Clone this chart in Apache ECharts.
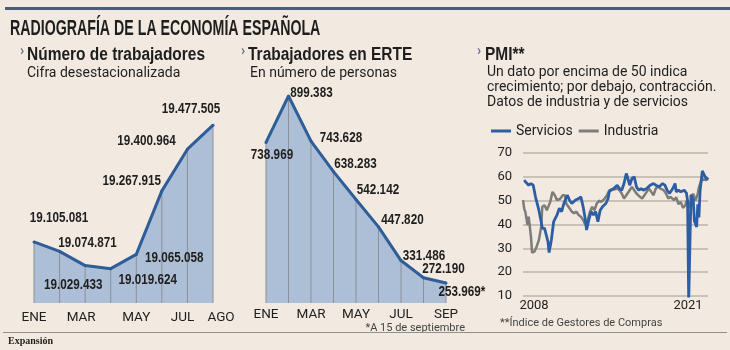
<!DOCTYPE html>
<html>
<head>
<meta charset="utf-8">
<script src="https://cdn.jsdelivr.net/npm/echarts@6/dist/echarts.min.js"></script>
<style>
	html, body{ margin:0; padding:0; background:#f2eae0; }
	#chart{ width:730px; height:350px; }
</style>
</head>
<body>
<div id="chart"></div>
<script>
// Número de trabajadores (cifra desestacionalizada)
var mesesTrab = ['ENE', 'FEB', 'MAR', 'ABR', 'MAY', 'JUN', 'JUL', 'AGO'];
var trabajadores = [19105081, 19074871, 19029433, 19019624, 19065058, 19267915, 19400964, 19477505];

// Trabajadores en ERTE (el último dato, a 15 de septiembre)
var mesesErte = ['ENE', 'FEB', 'MAR', 'ABR', 'MAY', 'JUN', 'JUL', 'AGO', 'SEP'];
var erte = [738969, 899383, 743628, 638283, 542142, 447820, 331486, 272190, 253969];

// PMI: [mes desde ene-2008, valor]
var pmiServicios = [
	[1, 58.6], [3, 57.5], [5, 56.5], [7, 57.2], [9, 56.5], [11, 51.6], [14, 46], [16, 41.2], [17, 38.4],
	[19, 38.4], [22, 32.8], [23, 28.2], [25, 33.5], [27, 41.2], [30, 44], [32, 46.8], [34, 45.4], [36, 48.8],
	[39, 52.3], [41, 50.2], [43, 48.8], [46, 50.2], [49, 50.9], [51, 51.6], [53, 47.4], [55, 41.9], [56, 37.7],
	[58, 41.9], [60, 45.4], [62, 44], [64, 45.4], [66, 41.2], [68, 46], [70, 47.4], [73, 48.8], [75, 50.9],
	[76, 53.7], [78, 54.7], [80, 55.1], [83, 56.5], [85, 55.1], [87, 54.4], [89, 57.2], [91, 61.4], [92, 60],
	[94, 56.5], [96, 59.3], [98, 60], [100, 55.8], [102, 54.4], [104, 55.1], [106, 54.4], [109, 55.1],
	[112, 56.5], [115, 57.2], [117, 56.5], [120, 55.8], [123, 57.2], [125, 56.5], [127, 54.4], [129, 53],
	[132, 55.1], [134, 57.2], [135, 53.7], [137, 54.4], [139, 53.7], [142, 54.4], [144, 53.2], [145, 50],
	[146, 8], [147, 30], [148, 52.5], [150, 50.5], [151, 41.5], [153, 39], [154, 48.5], [155, 43], [156, 54],
	[158, 62.5], [160, 60.4], [162, 59], [163, 59.7]
];
var pmiIndustria = [
	[0, 50.2], [1, 46.8], [2, 45.4], [4, 39.8], [5, 43.3], [7, 34.9], [8, 28.2], [10, 28.6], [12, 30.7],
	[14, 33.5], [16, 39], [17, 47.4], [19, 48.1], [21, 46], [22, 45.4], [24, 49.5], [26, 53.7], [28, 52.3],
	[30, 50.2], [33, 50.9], [35, 52.3], [37, 52.3], [38, 48.8], [41, 46.8], [43, 45.4], [45, 44.7], [47, 45.4],
	[49, 44], [51, 43.3], [53, 41.9], [55, 39.8], [57, 41.9], [59, 45.4], [61, 47.4], [63, 46], [65, 48.8],
	[67, 50], [69, 49.5], [72, 50.9], [74, 52.3], [76, 54.4], [78, 54.4], [80, 54.7], [83, 55.1], [85, 54.4],
	[87, 53], [89, 50.9], [91, 52.3], [94, 54.4], [96, 55.8], [98, 54.4], [100, 53], [103, 51.6], [105, 50.9],
	[107, 52.3], [109, 53.7], [111, 55.1], [113, 53.7], [115, 52.3], [117, 55.1], [119, 55.8], [121, 55.1],
	[124, 54.4], [126, 53], [128, 50.9], [130, 51.6], [133, 50.2], [135, 51.4], [137, 48.6], [139, 49.5],
	[141, 47], [143, 48], [144, 50], [146, 47], [148, 50], [150, 53], [152, 50], [154, 53], [155, 55.6],
	[157, 58.3], [159, 59], [161, 58.6], [163, 59]
];
var pmiAnios = ['2008', '2021'];
var pmiAniosMes = [0, 156];

// desplazamiento de cada etiqueta respecto a su punto (px)
var posTrab = [[25, -24], [28, -8], [-12, 19], [37, 11], [38, 3], [-30, -10], [-41, -8], [-22, -16]];
var posErte = [[6, 12], [23, -3], [30, -3], [22, -8], [22, -10], [24, -7], [23, -5], [20, -9], [16, 9]];

var BOLD_FONT = '"Liberation Sans", Arial, sans-serif';
var SANS = 'Roboto, "Liberation Sans", sans-serif';
var INK = '#1e1e1e';
var AZUL = '#2f5d98';
var RELLENO = '#adbfd6';
var GUIA = '#8b9099';

var fmt = function(v){
	return String(v).replace(/\B(?=(\d{3})+(?!\d))/g, '.');
};

var monthAxis = function(grid, data, shown, margin){
	return {
		type:'category', gridIndex:grid, data:data, boundaryGap:false,
		axisLine:{ show:false }, axisTick:{ show:false }, splitLine:{ show:false },
		axisLabel:{
			margin:margin, color:INK, fontFamily:SANS, fontSize:13.5,
			interval:function(i){ return shown.indexOf(i) >= 0; },
			formatter:function(v){
				if( v === 'AGO' ) return '{d|AGO}';
				if( v === 'JUL' && grid === 0 ) return '{i|JUL}';
				if( v === 'MAR' && grid === 0 ) return '{i2|MAR}';
				return v;
			},
			rich:{
				d:{ padding:[0, 0, 0, 16], fontFamily:SANS, fontSize:13.5, color:INK },
				i:{ padding:[0, 10, 0, 0], fontFamily:SANS, fontSize:13.5, color:INK },
				i2:{ padding:[0, 8, 0, 0], fontFamily:SANS, fontSize:13.5, color:INK }
			}
		}
	};
};

/**
 * área + líneas guía + línea + etiquetas (estrechadas, como en el original)
 */
var areaSeries = function(idx, values, pos, star){
	return [
		{
			type:'line', xAxisIndex:idx, yAxisIndex:idx, data:values, z:1, silent:true,
			symbol:'none', lineStyle:{ width:0 }, areaStyle:{ color:RELLENO, opacity:1 }
		},
		{
			type:'bar', xAxisIndex:idx, yAxisIndex:idx, data:values, z:2, silent:true,
			barWidth:1, itemStyle:{ color:GUIA }
		},
		{
			type:'line', xAxisIndex:idx, yAxisIndex:idx, data:values, z:3, silent:true,
			symbol:'circle', symbolSize:3, itemStyle:{ color:AZUL },
			lineStyle:{ color:AZUL, width:3 }
		},
		{
			type:'custom', xAxisIndex:idx, yAxisIndex:idx, z:4, silent:true, clip:false,
			data:values.map(function(v, i){ return [i, v]; }),
			renderItem:function(params, api){
				var i = params.dataIndex;
				var p = api.coord( [api.value( 0 ), api.value( 1 )] );
				var txt = fmt( values[i] ) + (star && i === values.length - 1 ? '*' : '');
				return {
					type:'text', x:p[0] + pos[i][0], y:p[1] + pos[i][1], scaleX:0.79,
					style:{ text:txt, fontFamily:BOLD_FONT, fontWeight:'bold', fontSize:14.8, fill:INK, align:'center', verticalAlign:'middle' }
				};
			}
		}
	];
};

var chart = echarts.init( document.getElementById( 'chart' ), null, { renderer:'canvas' } );

var headerText = function(x, y, text){
	return [
		{ type:'text', x:x, y:y - 4, style:{ text:'›', fontFamily:SANS, fontWeight:'bold', fontSize:14, fill:'#5f7088', verticalAlign:'middle' } },
		{ type:'text', x:x + 7, y:y, scaleX:0.86, style:{ text:text, fontFamily:BOLD_FONT, fontWeight:'bold', fontSize:18, fill:INK, verticalAlign:'middle' } }
	];
};

var plainText = function(x, y, text, size, color){
	return { type:'text', x:x, y:y, style:{ text:text, fontFamily:SANS, fontSize:size, fill:color || INK, verticalAlign:'middle' } };
};

var graphics = [
	{ type:'rect', shape:{ x:5, y:7, width:725, height:3 }, style:{ fill:'#4c5d77' } },
	{ type:'text', x:10, y:29, scaleX:0.645, style:{ text:'RADIOGRAFÍA DE LA ECONOMÍA ESPAÑOLA', fontFamily:BOLD_FONT, fontWeight:'bold', fontSize:22, fill:INK, verticalAlign:'middle' } },
	plainText( 27, 73, 'Cifra desestacionalizada', 14 ),
	plainText( 250, 73, 'En número de personas', 14 ),
	plainText( 487, 72, 'Un dato por encima de 50 indica', 14 ),
	plainText( 487, 87, 'crecimiento; por debajo, contracción.', 14 ),
	plainText( 487, 102, 'Datos de industria y de servicios', 14 ),
	{ type:'text', x:465, y:328, style:{ text:'*A 15 de septiembre', fontFamily:SANS, fontSize:11, fill:'#444', align:'right', verticalAlign:'middle' } },
	plainText( 500, 323, '**Índice de Gestores de Compras', 11, '#444' ),
	{ type:'rect', shape:{ x:3, y:332, width:724, height:1 }, style:{ fill:'#8f8f8f' } },
	{ type:'text', x:8, y:341, style:{ text:'Expansión', fontFamily:'"Liberation Serif", serif', fontWeight:'bold', fontSize:10, fill:INK, verticalAlign:'middle' } }
]
	.concat( headerText( 20, 55, 'Número de trabajadores' ) )
	.concat( headerText( 241, 55, 'Trabajadores en ERTE' ) )
	.concat( [
		{ type:'text', x:477, y:51, style:{ text:'›', fontFamily:SANS, fontWeight:'bold', fontSize:14, fill:'#5f7088', verticalAlign:'middle' } },
		{ type:'text', x:485, y:55, scaleX:0.86, style:{ text:'PMI**', fontFamily:BOLD_FONT, fontWeight:'bold', fontSize:18, fill:INK, verticalAlign:'middle' } }
	] );

var option = {
	backgroundColor:'#f2eae0',
	animation:false,
	graphic:graphics,
	legend:{
		data:['Servicios', 'Industria'],
		left:486, top:119, itemWidth:20, itemHeight:3, itemGap:6, icon:'rect',
		textStyle:{ fontFamily:SANS, fontSize:14, color:INK }
	},
	grid:[
		{ left:34, right:517, top:100, bottom:47 },
		{ left:266, right:284, top:90, bottom:47 },
		{ left:523, right:22, top:153, bottom:54 }
	],
	xAxis:[
		monthAxis( 0, mesesTrab, [0, 2, 4, 6, 7], 8 ),
		monthAxis( 1, mesesErte, [0, 2, 4, 6, 8], 5 ),
		{
			type:'value', gridIndex:2, min:0, max:163,
			axisLine:{ show:false }, axisTick:{ show:false }, splitLine:{ show:false },
			axisLabel:{
				customValues:pmiAniosMes, margin:3, color:INK, fontFamily:SANS, fontSize:13,
				formatter:function(v){
					var i = pmiAniosMes.indexOf( v );
					return i === 0 ? '{l|' + pmiAnios[0] + '}' : '{r|' + pmiAnios[i] + '}';
				},
				rich:{
					l:{ padding:[0, 0, 0, 22], fontFamily:SANS, fontSize:13, color:INK },
					r:{ padding:[0, 24, 0, 0], fontFamily:SANS, fontSize:13, color:INK }
				}
			}
		}
	],
	yAxis:[
		{ type:'value', gridIndex:0, min:18910000, max:19558000, show:false },
		{ type:'value', gridIndex:1, min:185000, max:920000, show:false },
		{
			type:'value', gridIndex:2, min:10, max:70, interval:10,
			axisLine:{ show:false }, axisTick:{ show:false },
			splitLine:{ lineStyle:{ color:'#bcb4aa', width:1.5 } },
			axisLabel:{ margin:11, color:INK, fontFamily:SANS, fontSize:13 }
		}
	],
	series:areaSeries( 0, trabajadores, posTrab, false )
		.concat( areaSeries( 1, erte, posErte, true ) )
		.concat( [
			{
				name:'Industria', type:'line', xAxisIndex:2, yAxisIndex:2, data:pmiIndustria,
				symbol:'none', color:'#7e7c79', lineStyle:{ color:'#7e7c79', width:2.5 }, z:4
			},
			{
				name:'Servicios', type:'line', xAxisIndex:2, yAxisIndex:2, data:pmiServicios,
				symbol:'none', color:'#2c5ea6', lineStyle:{ color:'#2c5ea6', width:2.8 }, z:5
			}
		] )
};

chart.setOption( option );
</script>
</body>
</html>
